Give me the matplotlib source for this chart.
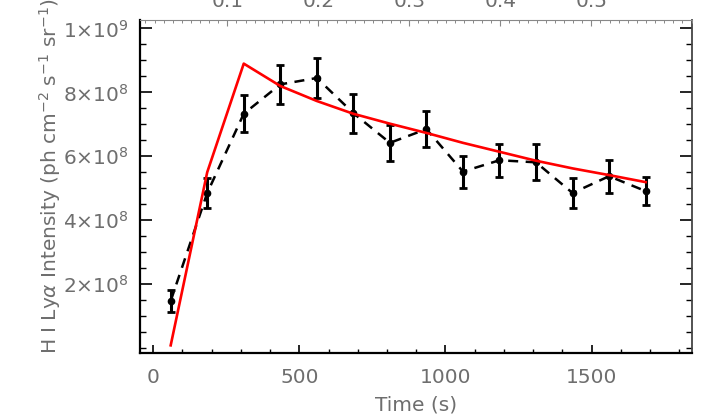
import matplotlib
matplotlib.use("Agg")
import matplotlib.pyplot as plt
from matplotlib.ticker import MultipleLocator, FuncFormatter

# Data
time_s = [60, 185, 310, 435, 560, 685, 810, 935, 1060, 1185, 1310, 1435, 1560, 1685]
obs = [1.47e8, 4.85e8, 7.33e8, 8.25e8, 8.45e8, 7.35e8, 6.42e8, 6.85e8,
       5.52e8, 5.875e8, 5.81e8, 4.85e8, 5.375e8, 4.91e8]
obs_err = [3.5e7, 4.6e7, 5.8e7, 6.0e7, 6.3e7, 6.1e7, 5.6e7, 5.6e7,
           5.0e7, 5.2e7, 5.6e7, 4.8e7, 5.2e7, 4.5e7]
model = [0.08e8, 5.5e8, 8.9e8, 8.2e8, 7.73e8, 7.33e8, 7.02e8, 6.73e8,
         6.42e8, 6.14e8, 5.86e8, 5.62e8, 5.41e8, 5.19e8]

y_ticks = [2e8, 4e8, 6e8, 8e8, 1e9]
y_tick_labels = [r"2$\times$10$^8$", r"4$\times$10$^8$", r"6$\times$10$^8$",
                 r"8$\times$10$^8$", r"1$\times$10$^9$"]
x_ticks = [0, 500, 1000, 1500]
top_ticks = [0.1, 0.2, 0.3, 0.4, 0.5]

TXT = "#6e6e6e"
FS = 14.5
plt.rcParams["font.family"] = ["DejaVu Sans"]
plt.rcParams["mathtext.fontset"] = "dejavusans"

fig = plt.figure(figsize=(7.07, 4.15), dpi=100)
ax = fig.add_axes([140/707, 1-352.7/415, (691.5-140)/707, (352.7-20.5)/415])

ax.errorbar(time_s, obs, yerr=obs_err, fmt="o", color="black", ms=4.5,
            elinewidth=2.2, capsize=3, capthick=2, zorder=3)
ax.plot(time_s, obs, color="black", lw=1.8, ls=(0, (4, 3)), zorder=2)
ax.plot(time_s, model, color="red", lw=1.9, zorder=4)

ax.set_xlim(-45, 1842)
ax.set_ylim(-1.5e7, 1.025e9)

ax.set_xticks(x_ticks)
ax.xaxis.set_minor_locator(MultipleLocator(100))
ax.set_yticks(y_ticks)
ax.set_yticklabels(y_tick_labels)
ax.yaxis.set_minor_locator(MultipleLocator(5e7))

ax.tick_params(axis="x", which="major", direction="in", length=5.5, width=1.2,
               pad=11, labelsize=FS, labelcolor=TXT, color="black")
ax.tick_params(axis="x", which="minor", direction="in", length=2.8, width=1.0, color="black")
ax.tick_params(axis="y", which="major", direction="in", length=8.5, width=1.2,
               pad=8, labelsize=FS, labelcolor=TXT, right=True, color="black")
ax.tick_params(axis="y", which="minor", direction="in", length=4.3, width=1.0,
               right=True, color="black")

for side in ["left", "bottom"]:
    ax.spines[side].set_linewidth(1.6)
    ax.spines[side].set_color("black")
ax.spines["right"].set_linewidth(1.3)
ax.spines["right"].set_color("#444444")
ax.spines["top"].set_linewidth(0.8)
ax.spines["top"].set_color("#888888")

ax.set_xlabel("Time (s)", fontsize=FS, color=TXT, labelpad=6)

fig.text(50/707, 1-176/415,
         r"H I Ly$\alpha$ Intensity (ph cm$^{-2}$ s$^{-1}$ sr$^{-1}$)",
         rotation=90, ha="center", va="center", fontsize=FS, color=TXT)

top = ax.twiny()
top.set_xlim(0.004, 0.610)
top.set_xticks(top_ticks)
top.set_xticklabels(["0.1", "0.2", "0.3", "0.4", "0.5"])
top.xaxis.set_minor_locator(MultipleLocator(0.01))
top.tick_params(axis="x", which="major", direction="in", length=4, width=0.8,
                pad=7, labelsize=FS, labelcolor=TXT, color="#888888")
top.tick_params(axis="x", which="minor", direction="in", length=2.5, width=0.7,
                color="#888888")
for s in top.spines.values():
    s.set_visible(False)

fig.savefig("out.png", dpi=100)
